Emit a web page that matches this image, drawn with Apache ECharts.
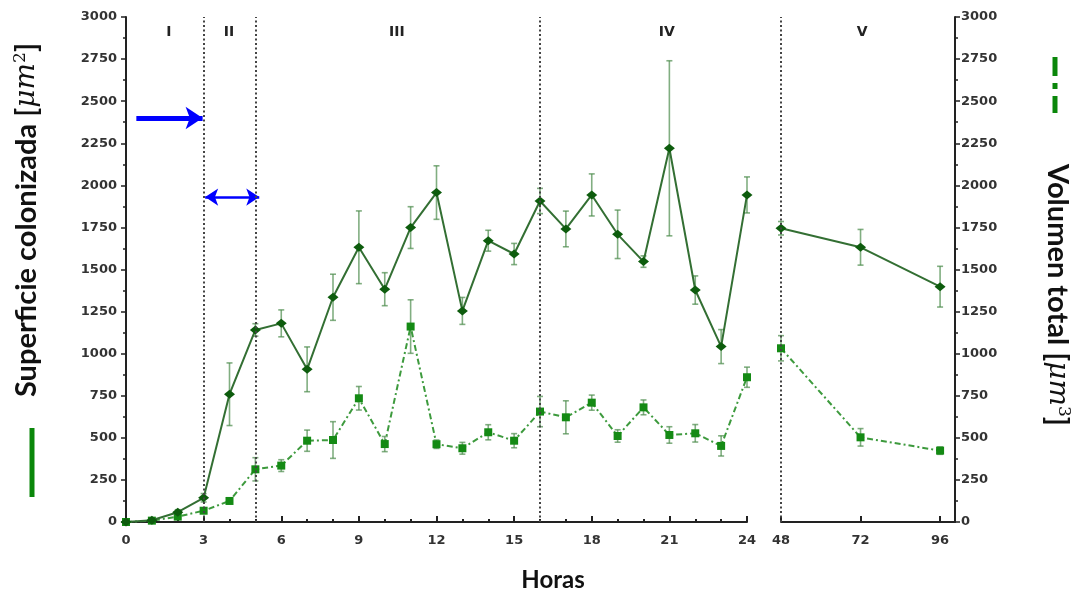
<!DOCTYPE html>
<html>
<head>
<meta charset="utf-8">
<script src="https://cdn.jsdelivr.net/npm/echarts@6/dist/echarts.min.js"></script>
<style>
html,body{margin:0;padding:0;background:#fff;}
#chart{width:1076px;height:597px;}
</style>
</head>
<body>
<div id="chart"></div>
<script>
// ---- data ----
var hoursEarly = [0,1,2,3,4,5,6,7,8,9,10,11,12,13,14,15,16,17,18,19,20,21,22,23,24];
var hoursLate = [48,72,96];
var superficieEarly = [0,10,58,144,759,1141,1180,907,1335,1632,1383,1749,1957,1254,1671,1592,1907,1741,1943,1709,1547,2220,1378,1042,1943];
var superficieEarlyErr = [0,5,15,25,186,37,80,133,137,216,98,124,159,80,62,63,75,106,125,144,34,520,84,101,107];
var superficieLate = [1745,1632,1398];
var superficieLateErr = [40,106,121];
var volumenEarly = [0,8,32,67,125,313,335,483,487,735,463,1161,462,438,533,483,656,622,709,511,681,517,527,452,860];
var volumenEarlyErr = [0,3,10,10,15,69,35,63,109,70,45,159,25,35,45,42,90,98,45,37,44,49,52,60,60];
var volumenLate = [1032,503,424];
var volumenLateErr = [75,52,22];
var phaseBounds = [3,5,16];
var phaseLabels = [['I',1.66],['II',3.98],['III',10.47],['IV',20.9]];
var phaseLateLabel = ['V',72.5];
var yTicks = [0,3000,250];

function pairs(xs, ys){ return xs.map(function(x,i){return [x, ys[i]];}); }
function errs(xs, ys, es){ return xs.map(function(x,i){return [x, ys[i]-es[i], ys[i]+es[i]];}); }

var solidLine = '#336f33', solidMark = '#0d5c0d';
var dashLine = '#3d9a3d', dashMark = '#148a14';
var errColor = 'rgba(75,140,75,0.7)';

function errRender(params, api){
  var x = api.value(0);
  var lo = api.coord([x, api.value(1)]);
  var hi = api.coord([x, api.value(2)]);
  var w = 3;
  var st = {stroke: errColor, lineWidth: 1.6};
  return {type:'group', children:[
    {type:'line', shape:{x1:lo[0],y1:lo[1],x2:hi[0],y2:hi[1]}, style:st},
    {type:'line', shape:{x1:lo[0]-w,y1:lo[1],x2:lo[0]+w,y2:lo[1]}, style:st},
    {type:'line', shape:{x1:hi[0]-w,y1:hi[1],x2:hi[0]+w,y2:hi[1]}, style:st}
  ]};
}

var plain = function(v){ return String(v); };
var labelFont = {fontFamily:'DejaVu Sans', fontWeight:'bold', fontSize:13, color:'#333', formatter:plain};
var axisLineStyle = {color:'#222', width:2};
var titleFont = 'bold 29px Lato, "Liberation Sans", sans-serif';
var mathFont = 'italic 28px "DejaVu Serif", serif';
var supFont = '17px "DejaVu Serif", serif';
var mathRich = {
  b:{font:titleFont, fill:'#111'},
  i:{font:mathFont, fill:'#111'},
  s:{font:supFont, fill:'#111', verticalAlign:'top', padding:[0,0,13,0]}
};

var chart = echarts.init(document.getElementById('chart'));
var option = {
  animation:false,
  backgroundColor:'#fff',
  grid:[
    {left:126, top:17, width:621, height:505},
    {left:781, top:17, width:174, height:505}
  ],
  xAxis:[
    {gridIndex:0, type:'value', min:0, max:24, interval:3,
     axisLine:{show:true, onZero:false, lineStyle:axisLineStyle},
     axisTick:{show:true, inside:true, length:6, lineStyle:{color:'#222', width:2}},
     minorTick:{show:true, splitNumber:3, length:3, lineStyle:{color:'#222', width:2}},
     splitLine:{show:false},
     axisLabel:Object.assign({margin:12}, labelFont)},
    {gridIndex:1, type:'value', min:48, max:100.5, interval:24,
     axisLine:{show:true, onZero:false, lineStyle:axisLineStyle},
     axisTick:{show:true, inside:true, length:6, lineStyle:{color:'#222', width:2}, customValues:hoursLate},
     splitLine:{show:false},
     axisLabel:Object.assign({margin:12, customValues:hoursLate}, labelFont)}
  ],
  yAxis:[
    {gridIndex:0, type:'value', min:yTicks[0], max:yTicks[1], interval:yTicks[2], position:'left',
     axisLine:{show:true, lineStyle:axisLineStyle},
     axisTick:{show:true, length:5, lineStyle:{color:'#222', width:1.5}},
     minorTick:{show:true, splitNumber:2, length:3, lineStyle:{color:'#222', width:1.5}},
     splitLine:{show:false},
     axisLabel:Object.assign({margin:9}, labelFont)},
    {gridIndex:1, type:'value', min:yTicks[0], max:yTicks[1], interval:yTicks[2], position:'right',
     axisLine:{show:true, lineStyle:axisLineStyle},
     axisTick:{show:true, length:5, lineStyle:{color:'#222', width:1.5}},
     minorTick:{show:true, splitNumber:2, length:3, lineStyle:{color:'#222', width:1.5}},
     splitLine:{show:false},
     axisLabel:Object.assign({margin:6}, labelFont)}
  ],
  series:[
    {type:'custom', xAxisIndex:0, yAxisIndex:0, renderItem:errRender, data:errs(hoursEarly, volumenEarly, volumenEarlyErr), z:2},
    {type:'custom', xAxisIndex:1, yAxisIndex:1, renderItem:errRender, data:errs(hoursLate, volumenLate, volumenLateErr), z:2},
    {type:'custom', xAxisIndex:0, yAxisIndex:0, renderItem:errRender, data:errs(hoursEarly, superficieEarly, superficieEarlyErr), z:2},
    {type:'custom', xAxisIndex:1, yAxisIndex:1, renderItem:errRender, data:errs(hoursLate, superficieLate, superficieLateErr), z:2},
    {name:'Volumen total', type:'line', xAxisIndex:0, yAxisIndex:0, data:pairs(hoursEarly, volumenEarly),
     symbol:'rect', symbolSize:8, itemStyle:{color:dashMark},
     lineStyle:{color:dashLine, width:2, type:[6,3,2,3]}, z:3,
     markLine:{silent:true, animation:false, label:{show:false},
       data:[
         [{coord:[0.4,2400], symbol:'none', lineStyle:{color:'#0000ff', width:5, type:'solid'}},
          {coord:[2.96,2400], symbol:'arrow', symbolSize:[17,17]}],
         [{coord:[3.06,1930], symbol:'arrow', symbolSize:[13,13], lineStyle:{color:'#0000ff', width:2.5, type:'solid'}},
          {coord:[5.15,1930], symbol:'arrow', symbolSize:[13,13]}]
       ]},
     markPoint:{silent:true, symbol:'circle', symbolSize:1, itemStyle:{color:'rgba(0,0,0,0)'},
       label:{show:true, position:'inside', fontFamily:'DejaVu Sans', fontWeight:'bold', fontSize:14, color:'#222',
              formatter:function(p){return p.name;}},
       data:phaseLabels.map(function(l){return {name:l[0], coord:[l[1],2910]};})}
    },
    {name:'Volumen total', type:'line', xAxisIndex:1, yAxisIndex:1, data:pairs(hoursLate, volumenLate),
     symbol:'rect', symbolSize:8, itemStyle:{color:dashMark},
     lineStyle:{color:dashLine, width:2, type:[6,3,2,3]}, z:3,
     markPoint:{silent:true, symbol:'circle', symbolSize:1, itemStyle:{color:'rgba(0,0,0,0)'},
       label:{show:true, position:'inside', fontFamily:'DejaVu Sans', fontWeight:'bold', fontSize:14, color:'#222',
              formatter:function(p){return p.name;}},
       data:[{name:phaseLateLabel[0], coord:[phaseLateLabel[1],2910]}]}
    },
    {name:'Superficie colonizada', type:'line', xAxisIndex:0, yAxisIndex:0, data:pairs(hoursEarly, superficieEarly),
     symbol:'diamond', symbolSize:[11,9], itemStyle:{color:solidMark},
     lineStyle:{color:solidLine, width:2}, z:4,
     markLine:{silent:true, symbol:'none', animation:false, label:{show:false},
       lineStyle:{color:'#444', width:2, type:[2,2.5]},
       data:phaseBounds.map(function(b){return {xAxis:b};})}
    },
    {name:'Superficie colonizada', type:'line', xAxisIndex:1, yAxisIndex:1, data:pairs(hoursLate, superficieLate),
     symbol:'diamond', symbolSize:[11,9], itemStyle:{color:solidMark},
     lineStyle:{color:solidLine, width:2}, z:4,
     markLine:{silent:true, symbol:'none', animation:false, label:{show:false},
       lineStyle:{color:'#444', width:2, type:[2,2.5]},
       data:[{xAxis:hoursLate[0]}]}
    }
  ],
  graphic:[
    {type:'text', x:553, y:580, style:{text:'Horas', font:'bold 24px Lato, "Liberation Sans", sans-serif', fill:'#111', textAlign:'center', textVerticalAlign:'middle'}},
    {type:'text', x:27, y:220, rotation:Math.PI/2,
     style:{text:'{b|Superficie colonizada }{b|[}{i|μm}{s|2}{b|]}', textAlign:'center', textVerticalAlign:'middle', rich:mathRich}},
    {type:'text', x:1057, y:295, rotation:-Math.PI/2,
     style:{text:'{b|Volumen total }{b|[}{i|μm}{s|3}{b|]}', textAlign:'center', textVerticalAlign:'middle', rich:mathRich}},
    {type:'line', shape:{x1:32, y1:428, x2:32, y2:497}, style:{stroke:'#0a870a', lineWidth:5}},
    {type:'line', shape:{x1:1055, y1:57, x2:1055, y2:76}, style:{stroke:'#0a870a', lineWidth:5}},
    {type:'line', shape:{x1:1055, y1:83, x2:1055, y2:89}, style:{stroke:'#0a870a', lineWidth:5}},
    {type:'line', shape:{x1:1055, y1:96, x2:1055, y2:113}, style:{stroke:'#0a870a', lineWidth:5}}
  ]
};
chart.setOption(option);
</script>
</body>
</html>
